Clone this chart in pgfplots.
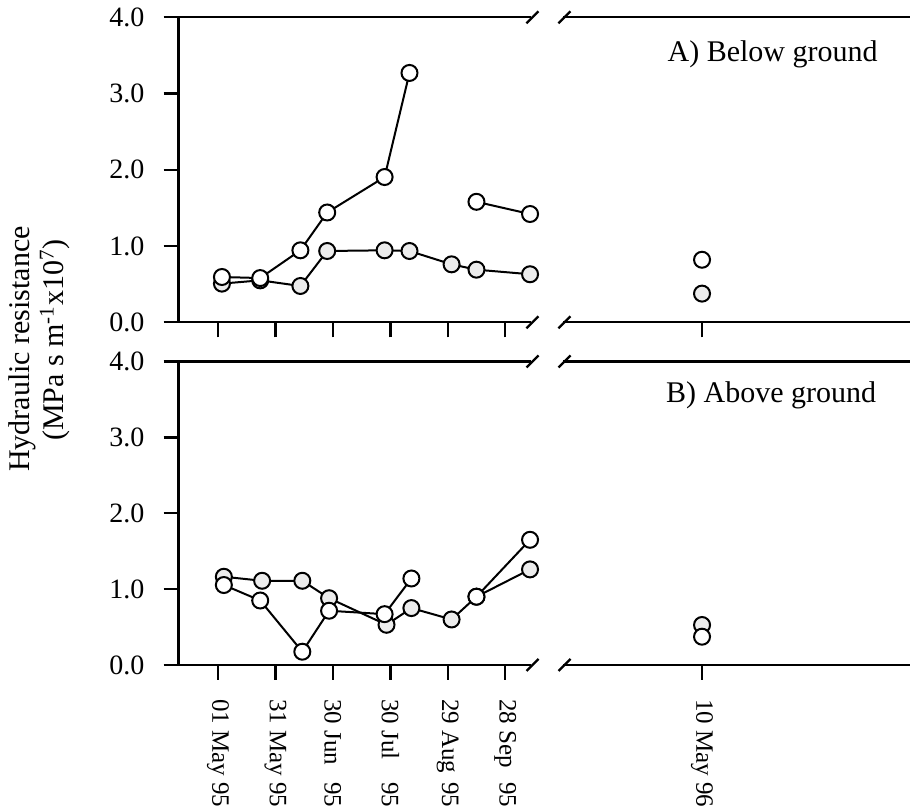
\documentclass[border=0pt]{standalone}
\usepackage{fontspec}
\setmainfont{Liberation Serif}
\usepackage{pgfplots}
\pgfplotsset{compat=1.18}
\newcommand\mo[1]{\makebox[1.833em][l]{#1}}
\newcommand\yl[1]{#1\hspace*{6pt}}
\pgfplotsset{
  panel/.style={
    scale only axis, clip=false,
    ymin=0, ymax=4,
    axis line style={line width=1.2pt},
    major tick style={line width=1.2pt, black},
    tick align=outside, major tick length=7.5pt,
    /pgf/number format/assume math mode=true,
    yticklabel style={font=\fontsize{14}{16}\selectfont},
    xticklabel style={font=\fontsize{12.5}{15}\selectfont, rotate=-90, anchor=west},
    xticklabel shift=6pt,
  },
  lft/.style={panel, at={(89.25pt,#1)}, anchor=south west,
    width=176.25pt, xmin=-20.7, xmax=163.5,
    axis x line*=box, axis y line*=left, xtick pos=bottom,
    ytick={0,1,2,3,4}, yticklabels={\yl{0.0},\yl{1.0},\yl{2.0},\yl{3.0},\yl{4.0}},
    xtick={0,30,60,90,120,150}},
  rgt/.style={panel, at={(281.5pt,#1)}, anchor=south west,
    width=173.5pt, xmin=-72.4, xmax=108.3,
    axis x line*=box, axis y line=none, xtick pos=bottom, xtick={0}},
  opn/.style={black, line width=1pt, mark=*, mark size=4pt,
    mark options={fill=white, line width=1pt, solid}},
  fld/.style={black, line width=1pt, mark=*, mark size=4pt,
    mark options={fill=gray!15, line width=1pt, solid}},
}
\begin{document}
\begin{tikzpicture}
\useasboundingbox (0,0) rectangle (455pt,403pt);
% ---------- top left
\begin{axis}[lft=241.85pt, height=152.5pt, xticklabels={}]
\addplot[fld] coordinates {(2,0.507)(22,0.55)(43,0.476)(57,0.935)(87,0.944)(100,0.935)(122,0.76)(135,0.69)(163,0.63)};
\addplot[opn] coordinates {(2,0.594)(22,0.58)(43,0.944)(57,1.44)(87,1.905)(100,3.27)};
\addplot[opn] coordinates {(135,1.58)(163,1.42)};
\end{axis}
% ---------- top right
\begin{axis}[rgt=241.85pt, height=152.5pt, xticklabels={}]
\addplot[fld, only marks] coordinates {(0,0.376)};
\addplot[opn, only marks] coordinates {(0,0.82)};
\end{axis}
% ---------- bottom left
\begin{axis}[lft=70.5pt, height=151.75pt,
  xticklabels={01 \mo{May} 95, 31 \mo{May} 95, 30 \mo{Jun} 95, 30 \mo{Jul} 95, 29 \mo{Aug} 95, 28 \mo{Sep} 95}]
\addplot[fld] coordinates {(3,1.163)(23,1.11)(44,1.11)(58,0.88)(88,0.53)(101,0.75)(122,0.60)(135,0.90)(163,1.26)};
\addplot[opn] coordinates {(3,1.054)(22,0.85)(44,0.175)(58,0.715)(87,0.67)(101,1.14)};
\addplot[opn] coordinates {(135,0.90)(163,1.65)};
\end{axis}
% ---------- bottom right
\begin{axis}[rgt=70.5pt, height=151.75pt, xticklabels={10 \mo{May} 96}]
\addplot[fld, only marks] coordinates {(0,0.527)};
\addplot[opn, only marks] coordinates {(0,0.373)};
\end{axis}
% break marks
\foreach \y in {394.35,241.85,222.25,70.5}{
  \draw[line width=1.2pt] (266.25pt-3pt,\y pt-3pt) -- (266.25pt+3pt,\y pt+3pt);
  \draw[line width=1.2pt] (282.25pt-3pt,\y pt-3pt) -- (282.25pt+3pt,\y pt+3pt);
}
% panel labels
\node[anchor=base east, inner sep=0pt, font=\fontsize{15}{18}\selectfont] at (439pt,372pt) {A) Below ground};
\node[anchor=base east, inner sep=0pt, font=\fontsize{15}{18}\selectfont] at (438.3pt,201.65pt) {B) Above ground};
% y label
\node[rotate=90, inner sep=0pt, font=\fontsize{15}{18}\selectfont] at (11pt,228.5pt) {Hydraulic resistance};
\node[rotate=90, inner sep=0pt, font=\fontsize{15}{18}\selectfont] at (27.5pt,233pt) {(MPa s m\textsuperscript{-1}x10\textsuperscript{7})};
\end{tikzpicture}
\end{document}
